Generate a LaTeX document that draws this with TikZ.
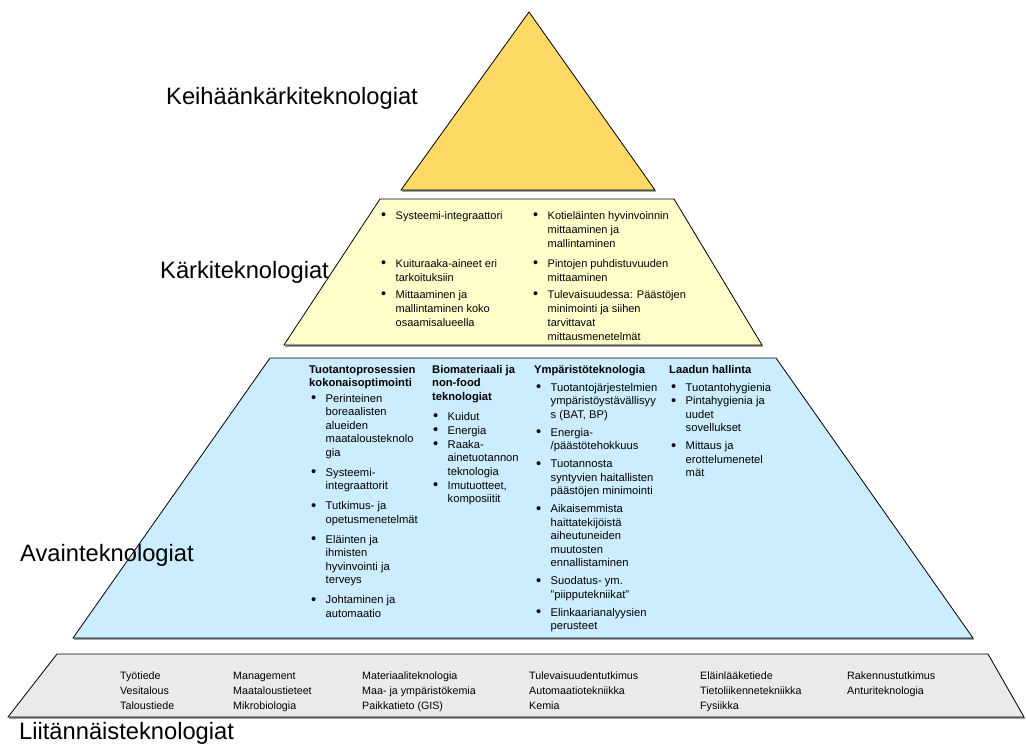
\documentclass[tikz,border=0pt]{standalone}
\usepackage{fontspec}
\setmainfont{Liberation Sans}
\definecolor{triY}{RGB}{255,217,102}
\definecolor{trapY}{RGB}{255,255,204}
\definecolor{trapB}{RGB}{204,236,255}
\definecolor{trapG}{RGB}{234,234,234}
\newcommand\bul{\makebox[14.5pt][l]{\raisebox{-0.9pt}{\scalebox{1.3}{\textbullet}}}}
\newcommand\bitem[5]{\node[#1] (#4) at (#2,#3) {\bul\parbox[t]{140pt}{\raggedright #5}};}
\newcommand\hdr[4]{\node[bluetxt] (#3) at (#1,#2) {\parbox[t]{120pt}{\raggedright\bfseries #4}};}
\newcommand\grycol[4]{\node[grytxt] (#3) at (#1,#2) {\parbox[t]{150pt}{\raggedright #4}};}
\begin{document}
\begin{tikzpicture}[x=1pt,y=-1pt,
  tier/.style={draw=black, line width=0.8pt, line join=miter},
  tiershadow/.style={fill=black!55, draw=none},
  big/.style={anchor=base west, inner sep=0pt, font=\fontsize{23.7}{28}\selectfont},
  bluetxt/.style={anchor=base west, inner sep=0pt, font=\fontsize{11.2}{13.5}\selectfont},
  yeltxt/.style={anchor=base west, inner sep=0pt, font=\fontsize{11}{14}\selectfont},
  grytxt/.style={anchor=base west, inner sep=0pt, font=\fontsize{10.7}{15}\selectfont}]
\useasboundingbox (0,0) rectangle (1026,745);
\fill[white] (0,0) rectangle (1026,745);
% tiers
\fill[tiershadow, shift={(1,1.5)}] (529,12) -- (655,190) -- (401,190) -- cycle;
\filldraw[tier, fill=triY] (529,12) -- (655,190) -- (401,190) -- cycle;
\fill[tiershadow, shift={(1,1.5)}] (380,199) -- (674,199) -- (762,345) -- (284,345) -- cycle;
\filldraw[tier, fill=trapY] (380,199) -- (674,199) -- (762,345) -- (284,345) -- cycle;
\fill[tiershadow, shift={(1,1.5)}] (270,358) -- (776,358) -- (973,638) -- (73,638) -- cycle;
\filldraw[tier, fill=trapB] (270,358) -- (776,358) -- (973,638) -- (73,638) -- cycle;
\fill[tiershadow, shift={(1,1.5)}] (57,654) -- (988,654) -- (1024,717) -- (8,717) -- cycle;
\filldraw[tier, fill=trapG] (57,654) -- (988,654) -- (1024,717) -- (8,717) -- cycle;
% big labels
\node[big] (L1) at (166,104) {Keihäänkärkiteknologiat};
\node[big] (L2) at (160,278) {Kärkiteknologiat};
\node[big] (L3) at (20,561) {Avainteknologiat};
\node[big] (L4) at (19,739) {Liitännäisteknologiat};
% yellow tier
\bitem{yeltxt}{381}{219}{y1}{Systeemi-integraattori}
\bitem{yeltxt}{381}{267}{y2}{Kuituraaka-aineet eri\\tarkoituksiin}
\bitem{yeltxt}{381}{298}{y3}{Mittaaminen ja\\mallintaminen koko\\osaamisalueella}
\bitem{yeltxt}{533}{219}{y4}{Kotieläinten hyvinvoinnin\\mittaaminen ja\\mallintaminen}
\bitem{yeltxt}{533}{267}{y5}{Pintojen puhdistuvuuden\\mittaaminen}
\bitem{yeltxt}{533}{298}{y6}{Tulevaisuudessa: Päästöjen\\minimointi ja siihen\\tarvittavat\\mittausmenetelmät}
% blue tier headers
\hdr{309}{373}{h1}{Tuotantoprosessien\\kokonaisoptimointi}
\hdr{432}{373}{h2}{Biomateriaali ja\\non-food\\teknologiat}
\hdr{534}{373}{h3}{Ympäristöteknologia}
\hdr{669}{373}{h4}{Laadun hallinta}
% column 1
\bitem{bluetxt}{311}{402}{b11}{Perinteinen\\boreaalisten\\alueiden\\maatalousteknolo\\gia}
\bitem{bluetxt}{311}{476}{b12}{Systeemi-\\integraattorit}
\bitem{bluetxt}{311}{509.5}{b13}{Tutkimus- ja\\opetusmenetelmät}
\bitem{bluetxt}{311}{543}{b14}{Eläinten ja\\ihmisten\\hyvinvointi ja\\terveys}
\bitem{bluetxt}{311}{603.5}{b15}{Johtaminen ja\\automaatio}
% column 2
\bitem{bluetxt}{433}{420}{b21}{Kuidut}
\bitem{bluetxt}{433}{434}{b22}{Energia}
\bitem{bluetxt}{433}{448}{b23}{Raaka-\\ainetuotannon\\teknologia}
\bitem{bluetxt}{433}{489}{b24}{Imutuotteet,\\komposiitit}
% column 3
\bitem{bluetxt}{536}{391}{b31}{Tuotantojärjestelmien\\ympäristöystävällisyy\\s (BAT, BP)}
\bitem{bluetxt}{536}{436}{b32}{Energia-\\/päästötehokkuus}
\bitem{bluetxt}{536}{467.5}{b33}{Tuotannosta\\syntyvien haitallisten\\päästöjen minimointi}
\bitem{bluetxt}{536}{512.5}{b34}{Aikaisemmista\\haittatekijöistä\\aiheutuneiden\\muutosten\\ennallistaminen}
\bitem{bluetxt}{536}{584.5}{b35}{Suodatus- ym.\\"piipputekniikat"}
\bitem{bluetxt}{536}{616}{b36}{Elinkaarianalyysien\\perusteet}
% column 4
\bitem{bluetxt}{671}{391}{b41}{Tuotantohygienia}
\bitem{bluetxt}{671}{404.5}{b42}{Pintahygienia ja\\uudet\\sovellukset}
\bitem{bluetxt}{671}{449.5}{b43}{Mittaus ja\\erottelumenetel\\mät}
% grey tier
\grycol{120}{679}{g1}{Työtiede\\Vesitalous\\Taloustiede}
\grycol{233}{679}{g2}{Management\\Maataloustieteet\\Mikrobiologia}
\grycol{362}{679}{g3}{Materiaaliteknologia\\Maa- ja ympäristökemia\\Paikkatieto (GIS)}
\grycol{529}{679}{g4}{Tulevaisuudentutkimus\\Automaatiotekniikka\\Kemia}
\grycol{700}{679}{g5}{Eläinlääketiede\\Tietoliikennetekniikka\\Fysiikka}
\grycol{847}{679}{g6}{Rakennustutkimus\\Anturiteknologia}
\end{tikzpicture}
\end{document}
